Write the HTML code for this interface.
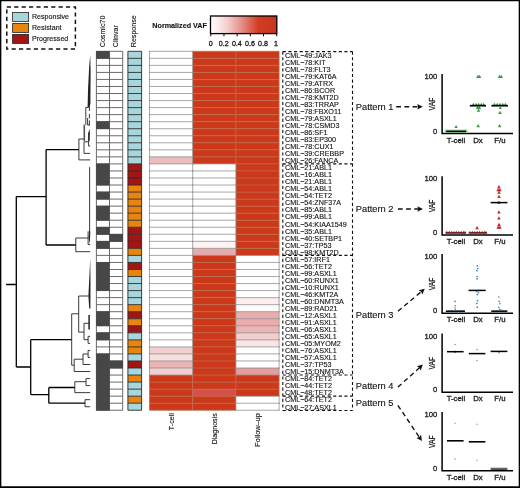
<!DOCTYPE html>
<html lang="en">
<head>
<meta charset="utf-8">
<title>Clonal patterns heat map</title>
<style>
html,body{margin:0;padding:0;background:#fff;}
body{width:520px;height:488px;overflow:hidden;font-family:"Liberation Sans",sans-serif;}
svg{display:block;will-change:transform;}
</style>
</head>
<body>
<svg width="520" height="488" viewBox="0 0 520 488" font-family="'Liberation Sans', sans-serif" fill="#000">
<style>text{stroke:#111;stroke-width:0.12px;fill:#111;paint-order:stroke}.hv text{stroke-width:0.26px}</style>
<rect x="0" y="0" width="520" height="488" fill="#fff"/>
<g id="legend">
<rect x="6.8" y="7" width="68.6" height="42" fill="none" stroke="#111" stroke-width="1.5" stroke-dasharray="4.2 3.2"/>
<rect x="12.6" y="12.5" width="16" height="9" fill="#a7d7dc" stroke="#222" stroke-width="0.8"/>
<text x="32" y="19.2" font-size="7.1" fill="#1a1a1a">Responsive</text>
<rect x="12.6" y="23.4" width="16" height="9" fill="#e8850f" stroke="#222" stroke-width="0.8"/>
<text x="32" y="30.1" font-size="7.1" fill="#1a1a1a">Resistant</text>
<rect x="12.6" y="34.4" width="16" height="9" fill="#a31515" stroke="#222" stroke-width="0.8"/>
<text x="32" y="41.1" font-size="7.1" fill="#1a1a1a">Progressed</text>
</g>
<g id="collabels" font-size="7.1" fill="#1a1a1a">
<text transform="translate(105.2 47.2) rotate(-90)">Cosmic70</text>
<text transform="translate(118.4 47.2) rotate(-90)">Clinvar</text>
<text transform="translate(136.2 47.2) rotate(-90)">Response</text>
</g>
<defs><linearGradient id="cb" x1="0" x2="1" y1="0" y2="0"><stop offset="0" stop-color="#ffffff"/><stop offset="0.25" stop-color="#f4cfcf"/><stop offset="0.5" stop-color="#e1857c"/><stop offset="0.72" stop-color="#d53c22"/><stop offset="1" stop-color="#c5351f"/></linearGradient></defs>
<text x="152.3" y="27.7" font-size="7.2" font-weight="bold">Normalized VAF</text>
<rect x="210.5" y="16" width="66.3" height="17.6" fill="url(#cb)" stroke="#000" stroke-width="1.3"/>
<path d="M210.8 33.8V36.3M223.98 33.8V36.3M237.16 33.8V36.3M250.34 33.8V36.3M263.52 33.8V36.3M276.7 33.8V36.3" stroke="#000" stroke-width="1" fill="none"/>
<g font-size="7.1" text-anchor="middle" fill="#1a1a1a" class="hv">
<text x="210.7" y="45.6">0</text>
<text x="223.78" y="45.6">0.2</text>
<text x="236.86" y="45.6">0.4</text>
<text x="249.94" y="45.6">0.6</text>
<text x="263.02" y="45.6">0.8</text>
<text x="276.1" y="45.6">1</text>
</g>
<g id="annot" shape-rendering="auto">
<rect x="96.4" y="51.3" width="26.3" height="358.94" fill="#fff"/>
<rect x="96.4" y="51" width="13.1" height="7.64" fill="#474747"/>
<rect x="96.4" y="121.38" width="13.1" height="7.64" fill="#474747"/>
<rect x="96.4" y="163.61" width="13.1" height="7.64" fill="#474747"/>
<rect x="96.4" y="170.65" width="13.1" height="7.64" fill="#474747"/>
<rect x="96.4" y="177.68" width="13.1" height="7.64" fill="#474747"/>
<rect x="96.4" y="191.76" width="13.1" height="7.64" fill="#474747"/>
<rect x="96.4" y="205.84" width="13.1" height="7.64" fill="#474747"/>
<rect x="96.4" y="212.87" width="13.1" height="7.64" fill="#474747"/>
<rect x="96.4" y="226.95" width="13.1" height="7.64" fill="#474747"/>
<rect x="109.5" y="233.99" width="13.2" height="7.64" fill="#474747"/>
<rect x="96.4" y="241.03" width="13.1" height="7.64" fill="#474747"/>
<rect x="96.4" y="262.14" width="13.1" height="7.64" fill="#474747"/>
<rect x="96.4" y="269.18" width="13.1" height="7.64" fill="#474747"/>
<rect x="96.4" y="276.22" width="13.1" height="7.64" fill="#474747"/>
<rect x="96.4" y="283.25" width="13.1" height="7.64" fill="#474747"/>
<rect x="96.4" y="311.41" width="13.1" height="7.64" fill="#474747"/>
<rect x="96.4" y="318.44" width="13.1" height="7.64" fill="#474747"/>
<rect x="96.4" y="332.52" width="13.1" height="7.64" fill="#474747"/>
<rect x="96.4" y="353.63" width="13.1" height="7.64" fill="#474747"/>
<rect x="96.4" y="360.67" width="13.1" height="7.64" fill="#474747"/>
<rect x="109.5" y="360.67" width="13.2" height="7.64" fill="#474747"/>
<rect x="96.4" y="367.71" width="13.1" height="7.64" fill="#474747"/>
<rect x="96.4" y="374.75" width="13.1" height="7.64" fill="#474747"/>
<rect x="96.4" y="381.79" width="13.1" height="7.64" fill="#474747"/>
<rect x="96.4" y="388.82" width="13.1" height="7.64" fill="#474747"/>
<rect x="96.4" y="395.86" width="13.1" height="7.64" fill="#474747"/>
<rect x="96.4" y="402.9" width="13.1" height="7.64" fill="#474747"/>
<path d="M96.4 51.3H122.7M96.4 58.34H122.7M96.4 65.38H122.7M96.4 72.41H122.7M96.4 79.45H122.7M96.4 86.49H122.7M96.4 93.53H122.7M96.4 100.57H122.7M96.4 107.6H122.7M96.4 114.64H122.7M96.4 121.68H122.7M96.4 128.72H122.7M96.4 135.76H122.7M96.4 142.79H122.7M96.4 149.83H122.7M96.4 156.87H122.7M96.4 163.91H122.7M96.4 170.95H122.7M96.4 177.98H122.7M96.4 185.02H122.7M96.4 192.06H122.7M96.4 199.1H122.7M96.4 206.14H122.7M96.4 213.17H122.7M96.4 220.21H122.7M96.4 227.25H122.7M96.4 234.29H122.7M96.4 241.33H122.7M96.4 248.36H122.7M96.4 255.4H122.7M96.4 262.44H122.7M96.4 269.48H122.7M96.4 276.52H122.7M96.4 283.55H122.7M96.4 290.59H122.7M96.4 297.63H122.7M96.4 304.67H122.7M96.4 311.71H122.7M96.4 318.74H122.7M96.4 325.78H122.7M96.4 332.82H122.7M96.4 339.86H122.7M96.4 346.9H122.7M96.4 353.93H122.7M96.4 360.97H122.7M96.4 368.01H122.7M96.4 375.05H122.7M96.4 382.09H122.7M96.4 389.12H122.7M96.4 396.16H122.7M96.4 403.2H122.7M96.4 410.24H122.7M96.4 51.3V410.24M109.5 51.3V410.24M122.7 51.3V410.24" stroke="#5a5a5a" stroke-width="0.9" fill="none"/>
<rect x="96.1" y="51.1" width="13.4" height="7.44" fill="#474747"/>
<rect x="96.1" y="121.48" width="13.4" height="7.44" fill="#474747"/>
<rect x="96.1" y="163.71" width="13.4" height="7.44" fill="#474747"/>
<rect x="96.1" y="170.75" width="13.4" height="7.44" fill="#474747"/>
<rect x="96.1" y="177.78" width="13.4" height="7.44" fill="#474747"/>
<rect x="96.1" y="191.86" width="13.4" height="7.44" fill="#474747"/>
<rect x="96.1" y="205.94" width="13.4" height="7.44" fill="#474747"/>
<rect x="96.1" y="212.97" width="13.4" height="7.44" fill="#474747"/>
<rect x="96.1" y="227.05" width="13.4" height="7.44" fill="#474747"/>
<rect x="109.5" y="234.09" width="13.5" height="7.44" fill="#474747"/>
<rect x="96.1" y="241.13" width="13.4" height="7.44" fill="#474747"/>
<rect x="96.1" y="262.24" width="13.4" height="7.44" fill="#474747"/>
<rect x="96.1" y="269.28" width="13.4" height="7.44" fill="#474747"/>
<rect x="96.1" y="276.32" width="13.4" height="7.44" fill="#474747"/>
<rect x="96.1" y="283.35" width="13.4" height="7.44" fill="#474747"/>
<rect x="96.1" y="311.51" width="13.4" height="7.44" fill="#474747"/>
<rect x="96.1" y="318.54" width="13.4" height="7.44" fill="#474747"/>
<rect x="96.1" y="332.62" width="13.4" height="7.44" fill="#474747"/>
<rect x="96.1" y="353.73" width="13.4" height="7.44" fill="#474747"/>
<rect x="96.1" y="360.77" width="13.4" height="7.44" fill="#474747"/>
<rect x="109.5" y="360.77" width="13.5" height="7.44" fill="#474747"/>
<rect x="96.1" y="367.81" width="13.4" height="7.44" fill="#474747"/>
<rect x="96.1" y="374.85" width="13.4" height="7.44" fill="#474747"/>
<rect x="96.1" y="381.89" width="13.4" height="7.44" fill="#474747"/>
<rect x="96.1" y="388.92" width="13.4" height="7.44" fill="#474747"/>
<rect x="96.1" y="395.96" width="13.4" height="7.44" fill="#474747"/>
<rect x="96.1" y="403" width="13.4" height="7.44" fill="#474747"/>
<rect x="127.9" y="51.3" width="13.7" height="7.04" fill="#a7d7dc"/>
<rect x="127.9" y="58.34" width="13.7" height="7.04" fill="#a7d7dc"/>
<rect x="127.9" y="65.38" width="13.7" height="7.04" fill="#a7d7dc"/>
<rect x="127.9" y="72.41" width="13.7" height="7.04" fill="#a7d7dc"/>
<rect x="127.9" y="79.45" width="13.7" height="7.04" fill="#a7d7dc"/>
<rect x="127.9" y="86.49" width="13.7" height="7.04" fill="#a7d7dc"/>
<rect x="127.9" y="93.53" width="13.7" height="7.04" fill="#a7d7dc"/>
<rect x="127.9" y="100.57" width="13.7" height="7.04" fill="#a7d7dc"/>
<rect x="127.9" y="107.6" width="13.7" height="7.04" fill="#a7d7dc"/>
<rect x="127.9" y="114.64" width="13.7" height="7.04" fill="#a7d7dc"/>
<rect x="127.9" y="121.68" width="13.7" height="7.04" fill="#a7d7dc"/>
<rect x="127.9" y="128.72" width="13.7" height="7.04" fill="#a7d7dc"/>
<rect x="127.9" y="135.76" width="13.7" height="7.04" fill="#a7d7dc"/>
<rect x="127.9" y="142.79" width="13.7" height="7.04" fill="#a7d7dc"/>
<rect x="127.9" y="149.83" width="13.7" height="7.04" fill="#a7d7dc"/>
<rect x="127.9" y="156.87" width="13.7" height="7.04" fill="#a7d7dc"/>
<rect x="127.9" y="163.91" width="13.7" height="7.04" fill="#a31515"/>
<rect x="127.9" y="170.95" width="13.7" height="7.04" fill="#a31515"/>
<rect x="127.9" y="177.98" width="13.7" height="7.04" fill="#a31515"/>
<rect x="127.9" y="185.02" width="13.7" height="7.04" fill="#e8850f"/>
<rect x="127.9" y="192.06" width="13.7" height="7.04" fill="#e8850f"/>
<rect x="127.9" y="199.1" width="13.7" height="7.04" fill="#e8850f"/>
<rect x="127.9" y="206.14" width="13.7" height="7.04" fill="#e8850f"/>
<rect x="127.9" y="213.17" width="13.7" height="7.04" fill="#e8850f"/>
<rect x="127.9" y="220.21" width="13.7" height="7.04" fill="#e8850f"/>
<rect x="127.9" y="227.25" width="13.7" height="7.04" fill="#a31515"/>
<rect x="127.9" y="234.29" width="13.7" height="7.04" fill="#a31515"/>
<rect x="127.9" y="241.33" width="13.7" height="7.04" fill="#a31515"/>
<rect x="127.9" y="248.36" width="13.7" height="7.04" fill="#e8850f"/>
<rect x="127.9" y="255.4" width="13.7" height="7.04" fill="#a7d7dc"/>
<rect x="127.9" y="262.44" width="13.7" height="7.04" fill="#a31515"/>
<rect x="127.9" y="269.48" width="13.7" height="7.04" fill="#e8850f"/>
<rect x="127.9" y="276.52" width="13.7" height="7.04" fill="#a7d7dc"/>
<rect x="127.9" y="283.55" width="13.7" height="7.04" fill="#a7d7dc"/>
<rect x="127.9" y="290.59" width="13.7" height="7.04" fill="#a7d7dc"/>
<rect x="127.9" y="297.63" width="13.7" height="7.04" fill="#a7d7dc"/>
<rect x="127.9" y="304.67" width="13.7" height="7.04" fill="#e8850f"/>
<rect x="127.9" y="311.71" width="13.7" height="7.04" fill="#a31515"/>
<rect x="127.9" y="318.74" width="13.7" height="7.04" fill="#e8850f"/>
<rect x="127.9" y="325.78" width="13.7" height="7.04" fill="#a31515"/>
<rect x="127.9" y="332.82" width="13.7" height="7.04" fill="#a7d7dc"/>
<rect x="127.9" y="339.86" width="13.7" height="7.04" fill="#e8850f"/>
<rect x="127.9" y="346.9" width="13.7" height="7.04" fill="#e8850f"/>
<rect x="127.9" y="353.93" width="13.7" height="7.04" fill="#a7d7dc"/>
<rect x="127.9" y="360.97" width="13.7" height="7.04" fill="#a31515"/>
<rect x="127.9" y="368.01" width="13.7" height="7.04" fill="#a7d7dc"/>
<rect x="127.9" y="375.05" width="13.7" height="7.04" fill="#e8850f"/>
<rect x="127.9" y="382.09" width="13.7" height="7.04" fill="#a7d7dc"/>
<rect x="127.9" y="389.12" width="13.7" height="7.04" fill="#a7d7dc"/>
<rect x="127.9" y="396.16" width="13.7" height="7.04" fill="#e8850f"/>
<rect x="127.9" y="403.2" width="13.7" height="7.04" fill="#a7d7dc"/>
<path d="M127.9 51.3H141.6M127.9 58.34H141.6M127.9 65.38H141.6M127.9 72.41H141.6M127.9 79.45H141.6M127.9 86.49H141.6M127.9 93.53H141.6M127.9 100.57H141.6M127.9 107.6H141.6M127.9 114.64H141.6M127.9 121.68H141.6M127.9 128.72H141.6M127.9 135.76H141.6M127.9 142.79H141.6M127.9 149.83H141.6M127.9 156.87H141.6M127.9 163.91H141.6M127.9 170.95H141.6M127.9 177.98H141.6M127.9 185.02H141.6M127.9 192.06H141.6M127.9 199.1H141.6M127.9 206.14H141.6M127.9 213.17H141.6M127.9 220.21H141.6M127.9 227.25H141.6M127.9 234.29H141.6M127.9 241.33H141.6M127.9 248.36H141.6M127.9 255.4H141.6M127.9 262.44H141.6M127.9 269.48H141.6M127.9 276.52H141.6M127.9 283.55H141.6M127.9 290.59H141.6M127.9 297.63H141.6M127.9 304.67H141.6M127.9 311.71H141.6M127.9 318.74H141.6M127.9 325.78H141.6M127.9 332.82H141.6M127.9 339.86H141.6M127.9 346.9H141.6M127.9 353.93H141.6M127.9 360.97H141.6M127.9 368.01H141.6M127.9 375.05H141.6M127.9 382.09H141.6M127.9 389.12H141.6M127.9 396.16H141.6M127.9 403.2H141.6M127.9 410.24H141.6M127.9 51.3V410.24M141.6 51.3V410.24" stroke="#2a2a2a" stroke-width="0.9" fill="none"/>
</g>
<g id="heat">
<rect x="192.7" y="51.3" width="43.2" height="7.04" fill="#cc381a"/>
<rect x="235.9" y="51.3" width="43.2" height="7.04" fill="#cc381a"/>
<rect x="192.7" y="58.34" width="43.2" height="7.04" fill="#cc381a"/>
<rect x="235.9" y="58.34" width="43.2" height="7.04" fill="#cc381a"/>
<rect x="192.7" y="65.38" width="43.2" height="7.04" fill="#cc381a"/>
<rect x="235.9" y="65.38" width="43.2" height="7.04" fill="#cc381a"/>
<rect x="192.7" y="72.41" width="43.2" height="7.04" fill="#cc381a"/>
<rect x="235.9" y="72.41" width="43.2" height="7.04" fill="#cc381a"/>
<rect x="192.7" y="79.45" width="43.2" height="7.04" fill="#cc381a"/>
<rect x="235.9" y="79.45" width="43.2" height="7.04" fill="#cc381a"/>
<rect x="192.7" y="86.49" width="43.2" height="7.04" fill="#cc381a"/>
<rect x="235.9" y="86.49" width="43.2" height="7.04" fill="#cc381a"/>
<rect x="192.7" y="93.53" width="43.2" height="7.04" fill="#cc381a"/>
<rect x="235.9" y="93.53" width="43.2" height="7.04" fill="#cc381a"/>
<rect x="192.7" y="100.57" width="43.2" height="7.04" fill="#cc381a"/>
<rect x="235.9" y="100.57" width="43.2" height="7.04" fill="#cc381a"/>
<rect x="192.7" y="107.6" width="43.2" height="7.04" fill="#cc381a"/>
<rect x="235.9" y="107.6" width="43.2" height="7.04" fill="#cc381a"/>
<rect x="192.7" y="114.64" width="43.2" height="7.04" fill="#cc381a"/>
<rect x="235.9" y="114.64" width="43.2" height="7.04" fill="#cc381a"/>
<rect x="192.7" y="121.68" width="43.2" height="7.04" fill="#cc381a"/>
<rect x="235.9" y="121.68" width="43.2" height="7.04" fill="#cc381a"/>
<rect x="192.7" y="128.72" width="43.2" height="7.04" fill="#cc381a"/>
<rect x="235.9" y="128.72" width="43.2" height="7.04" fill="#cc381a"/>
<rect x="192.7" y="135.76" width="43.2" height="7.04" fill="#cc381a"/>
<rect x="235.9" y="135.76" width="43.2" height="7.04" fill="#cc381a"/>
<rect x="192.7" y="142.79" width="43.2" height="7.04" fill="#cc381a"/>
<rect x="235.9" y="142.79" width="43.2" height="7.04" fill="#cc381a"/>
<rect x="192.7" y="149.83" width="43.2" height="7.04" fill="#cc381a"/>
<rect x="235.9" y="149.83" width="43.2" height="7.04" fill="#cc381a"/>
<rect x="149.5" y="156.87" width="43.2" height="7.04" fill="#edbcbc"/>
<rect x="192.7" y="156.87" width="43.2" height="7.04" fill="#cc381a"/>
<rect x="235.9" y="156.87" width="43.2" height="7.04" fill="#cc381a"/>
<rect x="235.9" y="163.91" width="43.2" height="7.04" fill="#cc381a"/>
<rect x="235.9" y="170.95" width="43.2" height="7.04" fill="#cc381a"/>
<rect x="235.9" y="177.98" width="43.2" height="7.04" fill="#cc381a"/>
<rect x="235.9" y="185.02" width="43.2" height="7.04" fill="#cc381a"/>
<rect x="235.9" y="192.06" width="43.2" height="7.04" fill="#cc381a"/>
<rect x="235.9" y="199.1" width="43.2" height="7.04" fill="#cc381a"/>
<rect x="235.9" y="206.14" width="43.2" height="7.04" fill="#cc381a"/>
<rect x="235.9" y="213.17" width="43.2" height="7.04" fill="#cc381a"/>
<rect x="235.9" y="220.21" width="43.2" height="7.04" fill="#cc381a"/>
<rect x="235.9" y="227.25" width="43.2" height="7.04" fill="#cc381a"/>
<rect x="235.9" y="234.29" width="43.2" height="7.04" fill="#cc381a"/>
<rect x="192.7" y="241.33" width="43.2" height="7.04" fill="#fcf3f3"/>
<rect x="235.9" y="241.33" width="43.2" height="7.04" fill="#cc381a"/>
<rect x="192.7" y="248.36" width="43.2" height="7.04" fill="#e8abab"/>
<rect x="235.9" y="248.36" width="43.2" height="7.04" fill="#cc381a"/>
<rect x="192.7" y="255.4" width="43.2" height="7.04" fill="#cc381a"/>
<rect x="192.7" y="262.44" width="43.2" height="7.04" fill="#cc381a"/>
<rect x="192.7" y="269.48" width="43.2" height="7.04" fill="#cc381a"/>
<rect x="192.7" y="276.52" width="43.2" height="7.04" fill="#cc381a"/>
<rect x="192.7" y="283.55" width="43.2" height="7.04" fill="#cc381a"/>
<rect x="192.7" y="290.59" width="43.2" height="7.04" fill="#cc381a"/>
<rect x="192.7" y="297.63" width="43.2" height="7.04" fill="#cc381a"/>
<rect x="235.9" y="297.63" width="43.2" height="7.04" fill="#faeeee"/>
<rect x="192.7" y="304.67" width="43.2" height="7.04" fill="#cc381a"/>
<rect x="235.9" y="304.67" width="43.2" height="7.04" fill="#fefafa"/>
<rect x="192.7" y="311.71" width="43.2" height="7.04" fill="#cc381a"/>
<rect x="235.9" y="311.71" width="43.2" height="7.04" fill="#e9adad"/>
<rect x="192.7" y="318.74" width="43.2" height="7.04" fill="#cc381a"/>
<rect x="235.9" y="318.74" width="43.2" height="7.04" fill="#e9adad"/>
<rect x="192.7" y="325.78" width="43.2" height="7.04" fill="#cc381a"/>
<rect x="235.9" y="325.78" width="43.2" height="7.04" fill="#ebb5b5"/>
<rect x="192.7" y="332.82" width="43.2" height="7.04" fill="#cc381a"/>
<rect x="235.9" y="332.82" width="43.2" height="7.04" fill="#f2cece"/>
<rect x="192.7" y="339.86" width="43.2" height="7.04" fill="#cc381a"/>
<rect x="235.9" y="339.86" width="43.2" height="7.04" fill="#f8e6e6"/>
<rect x="149.5" y="346.9" width="43.2" height="7.04" fill="#f2cece"/>
<rect x="192.7" y="346.9" width="43.2" height="7.04" fill="#cc381a"/>
<rect x="149.5" y="353.93" width="43.2" height="7.04" fill="#f6dfdf"/>
<rect x="192.7" y="353.93" width="43.2" height="7.04" fill="#cc381a"/>
<rect x="149.5" y="360.97" width="43.2" height="7.04" fill="#ebb5b5"/>
<rect x="192.7" y="360.97" width="43.2" height="7.04" fill="#cc381a"/>
<rect x="149.5" y="368.01" width="43.2" height="7.04" fill="#f2cece"/>
<rect x="192.7" y="368.01" width="43.2" height="7.04" fill="#cc381a"/>
<rect x="235.9" y="368.01" width="43.2" height="7.04" fill="#e49c9c"/>
<rect x="149.5" y="375.05" width="43.2" height="7.04" fill="#cc381a"/>
<rect x="192.7" y="375.05" width="43.2" height="7.04" fill="#cc381a"/>
<rect x="235.9" y="375.05" width="43.2" height="7.04" fill="#cc381a"/>
<rect x="149.5" y="382.09" width="43.2" height="7.04" fill="#cc381a"/>
<rect x="192.7" y="382.09" width="43.2" height="7.04" fill="#cc381a"/>
<rect x="235.9" y="382.09" width="43.2" height="7.04" fill="#cc381a"/>
<rect x="149.5" y="389.12" width="43.2" height="7.04" fill="#cc381a"/>
<rect x="192.7" y="389.12" width="43.2" height="7.04" fill="#d35149"/>
<rect x="235.9" y="389.12" width="43.2" height="7.04" fill="#cc381a"/>
<rect x="149.5" y="396.16" width="43.2" height="7.04" fill="#cc381a"/>
<rect x="192.7" y="396.16" width="43.2" height="7.04" fill="#cc381a"/>
<rect x="149.5" y="403.2" width="43.2" height="7.04" fill="#cc381a"/>
<rect x="192.7" y="403.2" width="43.2" height="7.04" fill="#cc381a"/>
<path d="M192.7 51.3H235.9M235.9 51.3H279.1M192.7 58.34H235.9M235.9 58.34H279.1M192.7 65.38H235.9M235.9 65.38H279.1M192.7 72.41H235.9M235.9 72.41H279.1M192.7 79.45H235.9M235.9 79.45H279.1M192.7 86.49H235.9M235.9 86.49H279.1M192.7 93.53H235.9M235.9 93.53H279.1M192.7 100.57H235.9M235.9 100.57H279.1M192.7 107.6H235.9M235.9 107.6H279.1M192.7 114.64H235.9M235.9 114.64H279.1M192.7 121.68H235.9M235.9 121.68H279.1M192.7 128.72H235.9M235.9 128.72H279.1M192.7 135.76H235.9M235.9 135.76H279.1M192.7 142.79H235.9M235.9 142.79H279.1M192.7 149.83H235.9M235.9 149.83H279.1M192.7 156.87H235.9M235.9 156.87H279.1M235.9 163.91H279.1M235.9 170.95H279.1M235.9 177.98H279.1M235.9 185.02H279.1M235.9 192.06H279.1M235.9 199.1H279.1M235.9 206.14H279.1M235.9 213.17H279.1M235.9 220.21H279.1M235.9 227.25H279.1M235.9 234.29H279.1M235.9 241.33H279.1M235.9 248.36H279.1M192.7 262.44H235.9M192.7 269.48H235.9M192.7 276.52H235.9M192.7 283.55H235.9M192.7 290.59H235.9M192.7 297.63H235.9M192.7 304.67H235.9M192.7 311.71H235.9M192.7 318.74H235.9M192.7 325.78H235.9M192.7 332.82H235.9M192.7 339.86H235.9M192.7 346.9H235.9M192.7 353.93H235.9M192.7 360.97H235.9M192.7 368.01H235.9M192.7 375.05H235.9M149.5 382.09H192.7M192.7 382.09H235.9M235.9 382.09H279.1M149.5 389.12H192.7M192.7 389.12H235.9M235.9 389.12H279.1M149.5 396.16H192.7M192.7 396.16H235.9M149.5 403.2H192.7M192.7 403.2H235.9M149.5 410.24H192.7M192.7 410.24H235.9M149.5 375.05V382.09M149.5 382.09V389.12M149.5 389.12V396.16M149.5 396.16V403.2M149.5 403.2V410.24M192.7 375.05V382.09M192.7 382.09V389.12M192.7 389.12V396.16M192.7 396.16V403.2M192.7 403.2V410.24M235.9 51.3V58.34M235.9 58.34V65.38M235.9 65.38V72.41M235.9 72.41V79.45M235.9 79.45V86.49M235.9 86.49V93.53M235.9 93.53V100.57M235.9 100.57V107.6M235.9 107.6V114.64M235.9 114.64V121.68M235.9 121.68V128.72M235.9 128.72V135.76M235.9 135.76V142.79M235.9 142.79V149.83M235.9 149.83V156.87M235.9 156.87V163.91M235.9 375.05V382.09M235.9 382.09V389.12M235.9 389.12V396.16M279.1 51.3V58.34M279.1 58.34V65.38M279.1 65.38V72.41M279.1 72.41V79.45M279.1 79.45V86.49M279.1 86.49V93.53M279.1 93.53V100.57M279.1 100.57V107.6M279.1 107.6V114.64M279.1 114.64V121.68M279.1 121.68V128.72M279.1 128.72V135.76M279.1 135.76V142.79M279.1 142.79V149.83M279.1 149.83V156.87M279.1 156.87V163.91M279.1 163.91V170.95M279.1 170.95V177.98M279.1 177.98V185.02M279.1 185.02V192.06M279.1 192.06V199.1M279.1 199.1V206.14M279.1 206.14V213.17M279.1 213.17V220.21M279.1 220.21V227.25M279.1 227.25V234.29M279.1 234.29V241.33M279.1 241.33V248.36M279.1 248.36V255.4M279.1 375.05V382.09M279.1 382.09V389.12M279.1 389.12V396.16" stroke="#ba6a4e" stroke-opacity="0.85" stroke-width="0.9" fill="none"/>
<path d="M149.5 51.3H192.7M149.5 58.34H192.7M149.5 65.38H192.7M149.5 72.41H192.7M149.5 79.45H192.7M149.5 86.49H192.7M149.5 93.53H192.7M149.5 100.57H192.7M149.5 107.6H192.7M149.5 114.64H192.7M149.5 121.68H192.7M149.5 128.72H192.7M149.5 135.76H192.7M149.5 142.79H192.7M149.5 149.83H192.7M149.5 156.87H192.7M149.5 163.91H192.7M192.7 163.91H235.9M149.5 170.95H192.7M192.7 170.95H235.9M149.5 177.98H192.7M192.7 177.98H235.9M149.5 185.02H192.7M192.7 185.02H235.9M149.5 192.06H192.7M192.7 192.06H235.9M149.5 199.1H192.7M192.7 199.1H235.9M149.5 206.14H192.7M192.7 206.14H235.9M149.5 213.17H192.7M192.7 213.17H235.9M149.5 220.21H192.7M192.7 220.21H235.9M149.5 227.25H192.7M192.7 227.25H235.9M149.5 234.29H192.7M192.7 234.29H235.9M149.5 241.33H192.7M192.7 241.33H235.9M149.5 248.36H192.7M192.7 248.36H235.9M149.5 255.4H192.7M192.7 255.4H235.9M235.9 255.4H279.1M149.5 262.44H192.7M235.9 262.44H279.1M149.5 269.48H192.7M235.9 269.48H279.1M149.5 276.52H192.7M235.9 276.52H279.1M149.5 283.55H192.7M235.9 283.55H279.1M149.5 290.59H192.7M235.9 290.59H279.1M149.5 297.63H192.7M235.9 297.63H279.1M149.5 304.67H192.7M235.9 304.67H279.1M149.5 311.71H192.7M235.9 311.71H279.1M149.5 318.74H192.7M235.9 318.74H279.1M149.5 325.78H192.7M235.9 325.78H279.1M149.5 332.82H192.7M235.9 332.82H279.1M149.5 339.86H192.7M235.9 339.86H279.1M149.5 346.9H192.7M235.9 346.9H279.1M149.5 353.93H192.7M235.9 353.93H279.1M149.5 360.97H192.7M235.9 360.97H279.1M149.5 368.01H192.7M235.9 368.01H279.1M149.5 375.05H192.7M235.9 375.05H279.1M235.9 396.16H279.1M235.9 403.2H279.1M235.9 410.24H279.1M149.5 51.3V58.34M149.5 58.34V65.38M149.5 65.38V72.41M149.5 72.41V79.45M149.5 79.45V86.49M149.5 86.49V93.53M149.5 93.53V100.57M149.5 100.57V107.6M149.5 107.6V114.64M149.5 114.64V121.68M149.5 121.68V128.72M149.5 128.72V135.76M149.5 135.76V142.79M149.5 142.79V149.83M149.5 149.83V156.87M149.5 156.87V163.91M149.5 163.91V170.95M149.5 170.95V177.98M149.5 177.98V185.02M149.5 185.02V192.06M149.5 192.06V199.1M149.5 199.1V206.14M149.5 206.14V213.17M149.5 213.17V220.21M149.5 220.21V227.25M149.5 227.25V234.29M149.5 234.29V241.33M149.5 241.33V248.36M149.5 248.36V255.4M149.5 255.4V262.44M149.5 262.44V269.48M149.5 269.48V276.52M149.5 276.52V283.55M149.5 283.55V290.59M149.5 290.59V297.63M149.5 297.63V304.67M149.5 304.67V311.71M149.5 311.71V318.74M149.5 318.74V325.78M149.5 325.78V332.82M149.5 332.82V339.86M149.5 339.86V346.9M149.5 346.9V353.93M149.5 353.93V360.97M149.5 360.97V368.01M149.5 368.01V375.05M192.7 51.3V58.34M192.7 58.34V65.38M192.7 65.38V72.41M192.7 72.41V79.45M192.7 79.45V86.49M192.7 86.49V93.53M192.7 93.53V100.57M192.7 100.57V107.6M192.7 107.6V114.64M192.7 114.64V121.68M192.7 121.68V128.72M192.7 128.72V135.76M192.7 135.76V142.79M192.7 142.79V149.83M192.7 149.83V156.87M192.7 156.87V163.91M192.7 163.91V170.95M192.7 170.95V177.98M192.7 177.98V185.02M192.7 185.02V192.06M192.7 192.06V199.1M192.7 199.1V206.14M192.7 206.14V213.17M192.7 213.17V220.21M192.7 220.21V227.25M192.7 227.25V234.29M192.7 234.29V241.33M192.7 241.33V248.36M192.7 248.36V255.4M192.7 255.4V262.44M192.7 262.44V269.48M192.7 269.48V276.52M192.7 276.52V283.55M192.7 283.55V290.59M192.7 290.59V297.63M192.7 297.63V304.67M192.7 304.67V311.71M192.7 311.71V318.74M192.7 318.74V325.78M192.7 325.78V332.82M192.7 332.82V339.86M192.7 339.86V346.9M192.7 346.9V353.93M192.7 353.93V360.97M192.7 360.97V368.01M192.7 368.01V375.05M235.9 163.91V170.95M235.9 170.95V177.98M235.9 177.98V185.02M235.9 185.02V192.06M235.9 192.06V199.1M235.9 199.1V206.14M235.9 206.14V213.17M235.9 213.17V220.21M235.9 220.21V227.25M235.9 227.25V234.29M235.9 234.29V241.33M235.9 241.33V248.36M235.9 248.36V255.4M235.9 255.4V262.44M235.9 262.44V269.48M235.9 269.48V276.52M235.9 276.52V283.55M235.9 283.55V290.59M235.9 290.59V297.63M235.9 297.63V304.67M235.9 304.67V311.71M235.9 311.71V318.74M235.9 318.74V325.78M235.9 325.78V332.82M235.9 332.82V339.86M235.9 339.86V346.9M235.9 346.9V353.93M235.9 353.93V360.97M235.9 360.97V368.01M235.9 368.01V375.05M235.9 396.16V403.2M235.9 403.2V410.24M279.1 255.4V262.44M279.1 262.44V269.48M279.1 269.48V276.52M279.1 276.52V283.55M279.1 283.55V290.59M279.1 290.59V297.63M279.1 297.63V304.67M279.1 304.67V311.71M279.1 311.71V318.74M279.1 318.74V325.78M279.1 325.78V332.82M279.1 332.82V339.86M279.1 339.86V346.9M279.1 346.9V353.93M279.1 353.93V360.97M279.1 360.97V368.01M279.1 368.01V375.05M279.1 396.16V403.2M279.1 403.2V410.24" stroke="#8c8c8c" stroke-opacity="0.85" stroke-width="0.9" stroke-linecap="square" fill="none"/>
</g>
<g font-size="7.1" text-anchor="end" fill="#1a1a1a">
<text transform="translate(174.2 413.2) rotate(-90)" font-size="7.1">T-cell</text>
<text transform="translate(216.7 413.2) rotate(-90)" font-size="7.1">Diagnosis</text>
<text transform="translate(260 413.2) rotate(-90)" font-size="7.35">Follow–up</text>
</g>
<g id="rowlabels" font-size="7.2" fill="#1a1a1a">
<text x="285" y="57.62">CML−49:JAK3</text>
<text x="285" y="64.66">CML−78:KIT</text>
<text x="285" y="71.7">CML−78:FLT3</text>
<text x="285" y="78.73">CML−79:KAT6A</text>
<text x="285" y="85.77">CML−79:ATRX</text>
<text x="285" y="92.81">CML−86:BCOR</text>
<text x="285" y="99.85">CML−78:KMT2D</text>
<text x="285" y="106.89">CML−83:TRRAP</text>
<text x="285" y="113.92">CML−78:FBXO11</text>
<text x="285" y="120.96">CML−79:ASXL1</text>
<text x="285" y="128">CML−78:CSMD3</text>
<text x="285" y="135.04">CML−86:SF1</text>
<text x="285" y="142.08">CML−83:EP300</text>
<text x="285" y="149.11">CML−78:CUX1</text>
<text x="285" y="156.15">CML−39:CREBBP</text>
<text x="285" y="163.19">CML−26:FANCA</text>
<text x="285" y="170.23">CML−21:ABL1</text>
<text x="285" y="177.27">CML−16:ABL1</text>
<text x="285" y="184.3">CML−21:ABL1</text>
<text x="285" y="191.34">CML−54:ABL1</text>
<text x="285" y="198.38">CML−54:TET2</text>
<text x="285" y="205.42">CML−54:ZNF37A</text>
<text x="285" y="212.46">CML−85:ABL1</text>
<text x="285" y="219.49">CML−99:ABL1</text>
<text x="285" y="226.53">CML−54:KIAA1549</text>
<text x="285" y="233.57">CML−35:ABL1</text>
<text x="285" y="240.61">CML−40:SETBP1</text>
<text x="285" y="247.65">CML−37:TP53</text>
<text x="285" y="254.68">CML−98:KMT2D</text>
<text x="285" y="261.72">CML−57:IRF1</text>
<text x="285" y="268.76">CML−56:TET2</text>
<text x="285" y="275.8">CML−99:ASXL1</text>
<text x="285" y="282.84">CML−60:RUNX1</text>
<text x="285" y="289.87">CML−10:RUNX1</text>
<text x="285" y="296.91">CML−46:KMT2A</text>
<text x="285" y="303.95">CML−60:DNMT3A</text>
<text x="285" y="310.99">CML−89:RAD21</text>
<text x="285" y="318.03">CML−12:ASXL1</text>
<text x="285" y="325.06">CML−91:ASXL1</text>
<text x="285" y="332.1">CML−06:ASXL1</text>
<text x="285" y="339.14">CML−65:ASXL1</text>
<text x="285" y="346.18">CML−05:MYOM2</text>
<text x="285" y="353.22">CML−76:ASXL1</text>
<text x="285" y="360.25">CML−57:ASXL1</text>
<text x="285" y="367.29">CML−37:TP53</text>
<text x="285" y="374.33">CML−15:DNMT3A</text>
<text x="285" y="381.37">CML−84:TET2</text>
<text x="285" y="388.41">CML−44:TET2</text>
<text x="285" y="395.44">CML−48:TET2</text>
<text x="285" y="402.48">CML−64:TET2</text>
<text x="285" y="409.52">CML−27:ASXL1</text>
</g>
<g fill="none" stroke="#111" stroke-width="1.1" stroke-dasharray="3.1 2.5">
<path d="M282.8 51.6V410.44"/>
<path d="M352.5 51.6V410.44"/>
<path d="M282.8 51.6H352.5"/>
<path d="M282.8 163.91H352.5"/>
<path d="M282.8 255.4H352.5"/>
<path d="M282.8 375.05H352.5"/>
<path d="M282.8 396.16H352.5"/>
<path d="M282.8 410.44H352.5"/>
</g>
<g font-size="9.3" fill="#1a1a1a">
<text x="355.8" y="109.6">Pattern 1</text>
<text x="355.8" y="211.9">Pattern 2</text>
<text x="355.8" y="318.1">Pattern 3</text>
<text x="355.8" y="389.1">Pattern 4</text>
<text x="355.8" y="405.9">Pattern 5</text>
</g>
<path d="M396.2 106.7L418.7 106.7" stroke="#111" stroke-width="1.35" stroke-dasharray="4.8 3.4" fill="none"/>
<path d="M422.8 106.7L417.2 109.5L418.1 106.7L417.2 103.9Z" fill="#111"/>
<path d="M397.9 209L418.9 209" stroke="#111" stroke-width="1.35" stroke-dasharray="4.8 3.4" fill="none"/>
<path d="M423 209L417.4 211.8L418.3 209L417.4 206.2Z" fill="#111"/>
<path d="M397.9 311.3L421.66 291.34" stroke="#111" stroke-width="1.35" stroke-dasharray="4.8 3.4" fill="none"/>
<path d="M424.8 288.7L422.31 294.45L421.2 291.72L418.71 290.16Z" fill="#111"/>
<path d="M397.9 387.1L419.85 367.34" stroke="#111" stroke-width="1.35" stroke-dasharray="4.8 3.4" fill="none"/>
<path d="M422.9 364.6L420.61 370.43L419.41 367.74L416.86 366.26Z" fill="#111"/>
<path d="M397.9 405.4L419.61 437.6" stroke="#111" stroke-width="1.35" stroke-dasharray="4.8 3.4" fill="none"/>
<path d="M421.9 441L416.45 437.92L419.27 437.1L421.09 434.79Z" fill="#111"/>
<path d="M442.1 73.9V133.6H513" fill="none" stroke="#000" stroke-width="1.5"/>
<g font-size="7.7" fill="#1a1a1a" class="hv">
<text x="437.3" y="79.1" text-anchor="end">100</text>
<text x="437.3" y="133.5" text-anchor="end">0</text>
<text transform="translate(434.9 104.05) rotate(-90) scale(0.72 1)" text-anchor="middle" font-size="9.4">VAF</text>
<text x="456" y="143.2" text-anchor="middle" font-size="7.8">T-cell</text>
<text x="478" y="143.2" text-anchor="middle" font-size="7.8">Dx</text>
<text x="500" y="143.2" text-anchor="middle" font-size="7.8">F/u</text>
</g>
<rect x="444.6" y="129.4" width="23" height="3.4" rx="1.2" fill="#a5d9a7"/>
<path d="M446.5 129.4L448.1 132.28L444.9 132.28Z" fill="#86c98a" fill-opacity="1"/>
<path d="M449 129.4L450.6 132.28L447.4 132.28Z" fill="#86c98a" fill-opacity="1"/>
<path d="M451.5 129.4L453.1 132.28L449.9 132.28Z" fill="#86c98a" fill-opacity="1"/>
<path d="M454 129.4L455.6 132.28L452.4 132.28Z" fill="#86c98a" fill-opacity="1"/>
<path d="M456.5 129.4L458.1 132.28L454.9 132.28Z" fill="#86c98a" fill-opacity="1"/>
<path d="M459 129.4L460.6 132.28L457.4 132.28Z" fill="#86c98a" fill-opacity="1"/>
<path d="M461.5 129.4L463.1 132.28L459.9 132.28Z" fill="#86c98a" fill-opacity="1"/>
<path d="M464 129.4L465.6 132.28L462.4 132.28Z" fill="#86c98a" fill-opacity="1"/>
<path d="M466 129.4L467.6 132.28L464.4 132.28Z" fill="#86c98a" fill-opacity="1"/>
<path d="M456.1 124.9L457.8 127.96L454.4 127.96Z" fill="#3a9a44" fill-opacity="1"/>
<path d="M446.2 131.4H466" stroke="#000" stroke-width="1.6"/>
<path d="M473.4 102.8L475.2 106.04L471.6 106.04Z" fill="#3a9a44" fill-opacity="1"/>
<path d="M476 102.8L477.8 106.04L474.2 106.04Z" fill="#3a9a44" fill-opacity="1"/>
<path d="M478.6 102.8L480.4 106.04L476.8 106.04Z" fill="#3a9a44" fill-opacity="1"/>
<path d="M481.2 102.8L483 106.04L479.4 106.04Z" fill="#3a9a44" fill-opacity="1"/>
<path d="M483.6 102.8L485.4 106.04L481.8 106.04Z" fill="#3a9a44" fill-opacity="1"/>
<path d="M477.6 105.8L479.4 109.04L475.8 109.04Z" fill="#3a9a44" fill-opacity="1"/>
<path d="M479.4 106L481.2 109.24L477.6 109.24Z" fill="#3a9a44" fill-opacity="1"/>
<path d="M478.5 108.4L480.3 111.64L476.7 111.64Z" fill="#3a9a44" fill-opacity="1"/>
<path d="M477.9 74.7L479.7 77.94L476.1 77.94Z" fill="#3a9a44" fill-opacity="1"/>
<path d="M479.5 74.7L481.3 77.94L477.7 77.94Z" fill="#3a9a44" fill-opacity="1"/>
<path d="M478.2 123.9L480 127.14L476.4 127.14Z" fill="#3a9a44" fill-opacity="1"/>
<path d="M469.8 105.7H486" stroke="#000" stroke-width="1.7"/>
<path d="M494.4 102.8L496.2 106.04L492.6 106.04Z" fill="#3a9a44" fill-opacity="1"/>
<path d="M497.2 102.8L499 106.04L495.4 106.04Z" fill="#3a9a44" fill-opacity="1"/>
<path d="M500 102.8L501.8 106.04L498.2 106.04Z" fill="#3a9a44" fill-opacity="1"/>
<path d="M502.8 102.8L504.6 106.04L501 106.04Z" fill="#3a9a44" fill-opacity="1"/>
<path d="M505.4 102.8L507.2 106.04L503.6 106.04Z" fill="#3a9a44" fill-opacity="1"/>
<path d="M500.3 106.2L501.9 109.08L498.7 109.08Z" fill="#3a9a44" fill-opacity="1"/>
<path d="M500 110.8L501.8 114.04L498.2 114.04Z" fill="#3a9a44" fill-opacity="1"/>
<path d="M499.6 74.7L501.4 77.94L497.8 77.94Z" fill="#3a9a44" fill-opacity="1"/>
<path d="M501.2 74.7L503 77.94L499.4 77.94Z" fill="#3a9a44" fill-opacity="1"/>
<path d="M499.6 123.9L501.4 127.14L497.8 127.14Z" fill="#3a9a44" fill-opacity="1"/>
<path d="M491.4 105.7H508" stroke="#000" stroke-width="1.7"/>
<path d="M442.1 176.2V234.9H513" fill="none" stroke="#000" stroke-width="1.5"/>
<g font-size="7.7" fill="#1a1a1a" class="hv">
<text x="437.3" y="181.4" text-anchor="end">100</text>
<text x="437.3" y="234.8" text-anchor="end">0</text>
<text transform="translate(434.9 205.85) rotate(-90) scale(0.72 1)" text-anchor="middle" font-size="9.4">VAF</text>
<text x="456" y="244" text-anchor="middle" font-size="7.8">T-cell</text>
<text x="478" y="244" text-anchor="middle" font-size="7.8">Dx</text>
<text x="500" y="244" text-anchor="middle" font-size="7.8">F/u</text>
</g>
<path d="M446.8 230.7L448.4 233.58L445.2 233.58Z" fill="#bf2a2e" fill-opacity="1"/>
<path d="M449.2 230.7L450.8 233.58L447.6 233.58Z" fill="#bf2a2e" fill-opacity="1"/>
<path d="M451.6 230.7L453.2 233.58L450 233.58Z" fill="#bf2a2e" fill-opacity="1"/>
<path d="M454 230.7L455.6 233.58L452.4 233.58Z" fill="#bf2a2e" fill-opacity="1"/>
<path d="M456.4 230.7L458 233.58L454.8 233.58Z" fill="#bf2a2e" fill-opacity="1"/>
<path d="M458.8 230.7L460.4 233.58L457.2 233.58Z" fill="#bf2a2e" fill-opacity="1"/>
<path d="M461.2 230.7L462.8 233.58L459.6 233.58Z" fill="#bf2a2e" fill-opacity="1"/>
<path d="M463.6 230.7L465.2 233.58L462 233.58Z" fill="#bf2a2e" fill-opacity="1"/>
<path d="M465 230.7L466.6 233.58L463.4 233.58Z" fill="#bf2a2e" fill-opacity="1"/>
<path d="M445.6 232.9H465.8" stroke="#6a1114" stroke-width="1.3"/>
<path d="M470 230.7L471.6 233.58L468.4 233.58Z" fill="#bf2a2e" fill-opacity="1"/>
<path d="M472.4 230.7L474 233.58L470.8 233.58Z" fill="#bf2a2e" fill-opacity="1"/>
<path d="M474.8 230.7L476.4 233.58L473.2 233.58Z" fill="#bf2a2e" fill-opacity="1"/>
<path d="M477.2 230.7L478.8 233.58L475.6 233.58Z" fill="#bf2a2e" fill-opacity="1"/>
<path d="M479.6 230.7L481.2 233.58L478 233.58Z" fill="#bf2a2e" fill-opacity="1"/>
<path d="M482 230.7L483.6 233.58L480.4 233.58Z" fill="#bf2a2e" fill-opacity="1"/>
<path d="M484.4 230.7L486 233.58L482.8 233.58Z" fill="#bf2a2e" fill-opacity="1"/>
<path d="M486 230.7L487.6 233.58L484.4 233.58Z" fill="#bf2a2e" fill-opacity="1"/>
<path d="M477 226L478.8 229.24L475.2 229.24Z" fill="#bf2a2e" fill-opacity="1"/>
<path d="M468.8 232.9H486.8" stroke="#6a1114" stroke-width="1.3"/>
<path d="M498.9 185L500.7 188.24L497.1 188.24Z" fill="#bf2a2e" fill-opacity="1"/>
<path d="M498.1 188L499.9 191.24L496.3 191.24Z" fill="#bf2a2e" fill-opacity="1"/>
<path d="M499.9 188L501.7 191.24L498.1 191.24Z" fill="#bf2a2e" fill-opacity="1"/>
<path d="M499 190.4L500.8 193.64L497.2 193.64Z" fill="#bf2a2e" fill-opacity="1"/>
<path d="M499 194.8L500.8 198.04L497.2 198.04Z" fill="#bf2a2e" fill-opacity="1"/>
<path d="M498.9 200.5L500.7 203.74L497.1 203.74Z" fill="#bf2a2e" fill-opacity="1"/>
<path d="M498.9 210.3L500.7 213.54L497.1 213.54Z" fill="#bf2a2e" fill-opacity="1"/>
<path d="M498.9 216.2L500.7 219.44L497.1 219.44Z" fill="#bf2a2e" fill-opacity="1"/>
<path d="M499 222.8L500.8 226.04L497.2 226.04Z" fill="#bf2a2e" fill-opacity="1"/>
<path d="M498.2 225.5L500 228.74L496.4 228.74Z" fill="#bf2a2e" fill-opacity="1"/>
<path d="M499.9 225.5L501.7 228.74L498.1 228.74Z" fill="#bf2a2e" fill-opacity="1"/>
<path d="M490.6 202.6H507.4" stroke="#000" stroke-width="1.5"/>
<path d="M442.1 254V313.2H513" fill="none" stroke="#000" stroke-width="1.5"/>
<g font-size="7.7" fill="#1a1a1a" class="hv">
<text x="437.3" y="259.2" text-anchor="end">100</text>
<text x="437.3" y="313.1" text-anchor="end">0</text>
<text transform="translate(434.9 283.9) rotate(-90) scale(0.72 1)" text-anchor="middle" font-size="9.4">VAF</text>
<text x="456" y="322" text-anchor="middle" font-size="7.8">T-cell</text>
<text x="478" y="322" text-anchor="middle" font-size="7.8">Dx</text>
<text x="500" y="322" text-anchor="middle" font-size="7.8">F/u</text>
</g>
<circle cx="455" cy="301.4" r="0.8" fill="#3a82c4" fill-opacity="1"/>
<circle cx="455.2" cy="305.7" r="0.8" fill="#3a82c4" fill-opacity="1"/>
<circle cx="454.9" cy="308" r="0.8" fill="#3a82c4" fill-opacity="1"/>
<circle cx="455.4" cy="309.8" r="0.8" fill="#3a82c4" fill-opacity="1"/>
<circle cx="449" cy="310.6" r="0.7" fill="#3a82c4" fill-opacity="1"/>
<circle cx="452" cy="310.6" r="0.7" fill="#3a82c4" fill-opacity="1"/>
<circle cx="458" cy="310.6" r="0.7" fill="#3a82c4" fill-opacity="1"/>
<circle cx="461" cy="310.6" r="0.7" fill="#3a82c4" fill-opacity="1"/>
<circle cx="463.5" cy="310.6" r="0.7" fill="#3a82c4" fill-opacity="1"/>
<path d="M445.8 311.2H465" stroke="#000" stroke-width="1.5"/>
<circle cx="477.3" cy="265.8" r="0.85" fill="#3a82c4" fill-opacity="1"/>
<circle cx="477.8" cy="268.5" r="0.85" fill="#3a82c4" fill-opacity="1"/>
<circle cx="476.9" cy="270.7" r="0.85" fill="#3a82c4" fill-opacity="1"/>
<circle cx="477.3" cy="276.5" r="0.85" fill="#3a82c4" fill-opacity="1"/>
<circle cx="477.1" cy="278.8" r="0.85" fill="#3a82c4" fill-opacity="1"/>
<circle cx="476.6" cy="291.4" r="0.85" fill="#3a82c4" fill-opacity="1"/>
<circle cx="478.4" cy="292.6" r="0.85" fill="#3a82c4" fill-opacity="1"/>
<circle cx="477.3" cy="294.6" r="0.85" fill="#3a82c4" fill-opacity="1"/>
<circle cx="477.5" cy="300.6" r="0.85" fill="#3a82c4" fill-opacity="1"/>
<circle cx="476.9" cy="303.3" r="0.85" fill="#3a82c4" fill-opacity="1"/>
<circle cx="477.3" cy="307.2" r="0.85" fill="#3a82c4" fill-opacity="1"/>
<path d="M468.6 290.4H485.7" stroke="#000" stroke-width="1.5"/>
<circle cx="498.9" cy="297" r="0.8" fill="#3a82c4" fill-opacity="1"/>
<circle cx="499.1" cy="301.4" r="0.8" fill="#3a82c4" fill-opacity="1"/>
<circle cx="499.9" cy="303.6" r="0.8" fill="#3a82c4" fill-opacity="1"/>
<circle cx="498.6" cy="307.2" r="0.8" fill="#3a82c4" fill-opacity="1"/>
<circle cx="499.4" cy="309.2" r="0.8" fill="#3a82c4" fill-opacity="1"/>
<circle cx="500.8" cy="309.8" r="0.8" fill="#3a82c4" fill-opacity="1"/>
<circle cx="494" cy="310.6" r="0.7" fill="#3a82c4" fill-opacity="1"/>
<circle cx="497" cy="310.6" r="0.7" fill="#3a82c4" fill-opacity="1"/>
<circle cx="503" cy="310.6" r="0.7" fill="#3a82c4" fill-opacity="1"/>
<circle cx="505.5" cy="310.6" r="0.7" fill="#3a82c4" fill-opacity="1"/>
<path d="M491.2 311.2H507.4" stroke="#000" stroke-width="1.5"/>
<path d="M442.1 333.5V392.3H513" fill="none" stroke="#000" stroke-width="1.5"/>
<g font-size="7.7" fill="#1a1a1a" class="hv">
<text x="437.3" y="338.7" text-anchor="end">100</text>
<text x="437.3" y="392.2" text-anchor="end">0</text>
<text transform="translate(434.9 363.2) rotate(-90) scale(0.72 1)" text-anchor="middle" font-size="9.4">VAF</text>
<text x="456" y="401.4" text-anchor="middle" font-size="7.8">T-cell</text>
<text x="478" y="401.4" text-anchor="middle" font-size="7.8">Dx</text>
<text x="500" y="401.4" text-anchor="middle" font-size="7.8">F/u</text>
</g>
<circle cx="455" cy="344.4" r="0.75" fill="#8a8a8a" fill-opacity="1"/>
<circle cx="455" cy="351.7" r="0.95" fill="#222" fill-opacity="1"/>
<path d="M447 351.7H463.6" stroke="#000" stroke-width="1.5"/>
<circle cx="477" cy="349.6" r="0.75" fill="#8a8a8a" fill-opacity="1"/>
<circle cx="477" cy="360.5" r="0.75" fill="#8a8a8a" fill-opacity="1"/>
<path d="M468.8 353.6H485.4" stroke="#000" stroke-width="1.5"/>
<circle cx="499" cy="352.6" r="0.85" fill="#8a8a8a" fill-opacity="1"/>
<path d="M490.6 351.4H507.4" stroke="#000" stroke-width="1.5"/>
<path d="M442.1 412.1V470.7H513" fill="none" stroke="#000" stroke-width="1.5"/>
<g font-size="7.7" fill="#1a1a1a" class="hv">
<text x="437.3" y="417.3" text-anchor="end">100</text>
<text x="437.3" y="470.6" text-anchor="end">0</text>
<text transform="translate(434.9 441.7) rotate(-90) scale(0.72 1)" text-anchor="middle" font-size="9.4">VAF</text>
<text x="456" y="480" text-anchor="middle" font-size="7.8">T-cell</text>
<text x="478" y="480" text-anchor="middle" font-size="7.8">Dx</text>
<text x="500" y="480" text-anchor="middle" font-size="7.8">F/u</text>
</g>
<circle cx="455" cy="423.3" r="0.85" fill="#b5b5b5" fill-opacity="1"/>
<circle cx="455" cy="458.9" r="0.85" fill="#b5b5b5" fill-opacity="1"/>
<path d="M447 440.8H463.6" stroke="#000" stroke-width="1.6"/>
<circle cx="477" cy="424.3" r="0.85" fill="#b5b5b5" fill-opacity="1"/>
<circle cx="477" cy="460.4" r="0.85" fill="#b5b5b5" fill-opacity="1"/>
<path d="M468.8 441.8H485.4" stroke="#000" stroke-width="1.6"/>
<path d="M490.6 468H507.4" stroke="#999" stroke-width="0.9"/>
<path d="M490.6 469.1H507.4" stroke="#000" stroke-width="1.2"/>
<g id="dendro" fill="none" stroke="#000" stroke-linecap="butt">
<path d="M6.1 284.5H16.3M16.3 196.6V367M16.3 196.6H46.1M46.1 149.6V245M46.1 149.6H78.9M46.1 245H75.8M16.3 367H30.7M30.7 339.7V394.6M30.7 339.7H71.7M30.7 394.6H48.8M48.8 387.5V403.2M48.8 387.5H74.8M48.8 403.2H85" stroke-width="1.3"/>
<path d="M78.9 139V159.9H90.2M78.9 139H84.3M84 141.8V153.4H90.2M84 141.8H88.6M88.6 132.6V146H90.2M85.8 107.4V124.8M85.8 107.4H88.3M87.6 118V125H89.6M89.4 104.5V111M89.4 114V118.5M89.4 120.5V125.5M89.6 167.2V238M75.8 238V251.7H90.2M75.8 238H88.1M88.1 231.3V244.6H90.2M78.7 296V332.1M78.7 296H88.6M71.7 313.8V365.2M71.7 313.8H78.7M78.7 332.1H84M84 323.3V339.7M84 323.3H88.8M84 339.7H88.1M90.2 336.34H88.1V343.38H90.2M71.7 365.2H74.2M74.2 359.2V371.53H90.2M74.2 359.2H83M83 354V364.49H90.2M83 354H88.1M90.2 350.42H88.1V357.45H90.2M74.8 381.7V392.64H90.2M74.8 381.7H86M90.2 378.57H86V385.61H90.2M90.2 399.68H85V406.72H90.2" stroke="#222" stroke-width="0.9"/>
<path d="M84.3 124.6V141" stroke="#555" stroke-width="1.6"/>
<path d="M89.1 315V329.5" stroke="#111" stroke-width="1.4"/>
<path d="M90.2 54.9L90.6 70L90.4 104L88.9 107.6L87.6 107.6L88 90L89.2 66Z" fill="#222" stroke="none"/>
<path d="M90.2 258.6L90.5 280L90.4 308.5L89.2 308.5L88.4 296L89.2 280Z" fill="#222" stroke="none"/>
<path d="M88.6 132.6L89.4 128.5L89.8 132.6L89.6 141L88.6 141Z" fill="#111" stroke="none"/>
<path d="M89.6 228L88.6 238L89.8 244L90.2 232Z" fill="#222" stroke="none"/>
</g>
<path d="M0 0H520V488H0Z M1.35 1.15V486.2H518.7V1.15Z" fill="#000" fill-rule="evenodd"/>
</svg>
</body>
</html>
